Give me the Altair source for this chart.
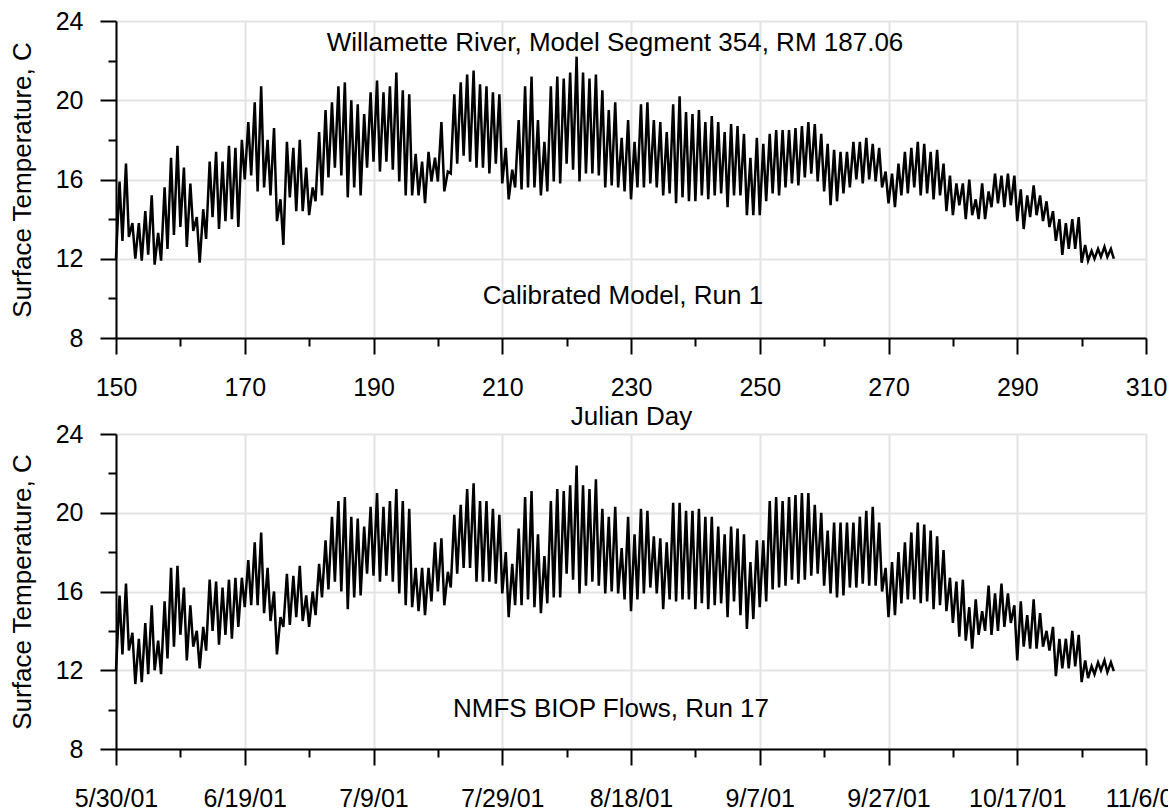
import altair as alt
import pandas as pd

# ---- data (daily min / max surface temperature, deg C) ----
days = list(range(150, 305))
end_day = 305

run1_max = [
    15.9, 16.8, 13.8, 13.8, 14.4, 15.2, 13.3, 15.6, 17.1, 17.7,
    16.6, 15.8, 14.1, 14.5, 16.9, 17.4, 16.9, 17.7, 17.6, 18.0,
    18.9, 19.9, 20.7, 18.0, 18.6, 15.0, 17.9, 17.6, 18.0, 16.6,
    15.6, 18.4, 19.5, 19.9, 20.7, 20.9, 20.0, 19.8, 19.3, 20.4,
    21.0, 20.4, 20.7, 21.4, 20.5, 20.3, 17.3, 16.9, 17.4, 17.1,
    18.9, 16.4, 20.3, 20.9, 21.3, 21.5, 20.8, 20.7, 20.4, 20.3,
    17.6, 16.5, 19.0, 20.7, 21.2, 19.0, 17.9, 20.7, 21.2, 21.1,
    21.4, 22.2, 21.4, 21.1, 21.3, 20.5, 19.5, 19.9, 18.1, 19.0,
    17.9, 19.8, 19.9, 19.0, 18.9, 18.4, 19.8, 20.2, 19.4, 19.3,
    19.5, 18.9, 19.2, 18.9, 18.4, 18.8, 18.7, 18.3, 17.1, 18.1,
    17.8, 18.3, 18.5, 18.5, 18.5, 18.6, 18.7, 18.9, 18.8, 18.3,
    17.8, 17.5, 17.4, 17.4, 17.9, 17.9, 18.1, 17.8, 17.6, 16.4,
    16.3, 16.8, 17.4, 17.6, 17.9, 17.8, 17.4, 17.5, 16.8, 16.2,
    15.8, 15.8, 16.0, 15.0, 15.8, 15.4, 16.3, 16.2, 16.3, 16.2,
    15.5, 15.2, 15.7, 15.2, 14.9, 14.4, 14.0, 13.8, 14.0, 14.1,
    12.7, 12.4, 12.5, 12.6, 12.5,
]
run1_min = [
    12.0, 12.9, 13.1, 12.0, 11.9, 12.2, 11.7, 11.9, 12.5, 13.2,
    13.6, 12.6, 13.4, 11.8, 13.0, 14.1, 13.5, 13.9, 14.0, 13.6,
    16.0, 16.2, 15.4, 15.6, 15.2, 13.9, 12.7, 15.1, 14.4, 14.4,
    14.2, 14.9, 15.2, 16.1, 16.6, 16.2, 15.1, 15.6, 15.2, 16.6,
    16.9, 16.4, 16.9, 16.5, 15.9, 15.2, 15.2, 15.2, 14.8, 15.9,
    15.9, 15.4, 16.3, 16.8, 17.2, 16.9, 16.6, 16.6, 16.3, 16.8,
    15.8, 15.0, 15.6, 15.5, 15.6, 15.6, 15.2, 15.4, 15.9, 15.8,
    16.8, 16.5, 15.9, 16.3, 16.3, 16.2, 15.6, 15.7, 15.6, 15.4,
    15.0, 15.6, 15.6, 15.8, 15.6, 15.2, 15.3, 14.8, 15.1, 14.9,
    14.9, 15.2, 15.0, 15.2, 15.3, 14.6, 15.2, 15.2, 14.2, 14.2,
    14.2, 14.9, 15.3, 15.2, 15.6, 15.8, 15.7, 16.1, 16.3, 15.9,
    15.4, 14.7, 14.9, 15.3, 15.6, 16.0, 15.8, 16.0, 15.9, 15.6,
    14.8, 14.6, 15.2, 15.3, 15.6, 15.2, 15.3, 15.0, 15.2, 14.4,
    14.2, 14.7, 14.0, 14.2, 14.0, 14.0, 14.6, 14.8, 14.6, 14.7,
    13.9, 13.5, 14.1, 14.2, 13.9, 13.6, 12.9, 12.2, 12.5, 12.5,
    11.8, 11.9, 12.0, 12.1, 12.1,
]
run1_end = 12.0

run17_max = [
    15.8, 16.4, 13.9, 13.6, 14.4, 15.3, 13.5, 15.5, 17.2, 17.3,
    16.2, 15.3, 14.0, 14.2, 16.6, 16.5, 16.2, 16.6, 16.7, 16.7,
    17.6, 18.5, 19.0, 17.2, 16.0, 14.7, 16.9, 16.8, 17.3, 15.8,
    16.0, 17.4, 18.6, 19.8, 20.6, 20.8, 19.8, 19.7, 19.3, 20.3,
    21.0, 20.3, 20.6, 21.2, 20.6, 20.2, 17.2, 17.2, 17.2, 18.5,
    18.7, 17.0, 19.9, 20.4, 21.2, 21.5, 20.6, 20.6, 20.2, 19.9,
    18.0, 17.4, 19.2, 20.8, 21.1, 18.9, 17.8, 20.6, 21.2, 21.1,
    21.4, 22.4, 21.4, 21.2, 21.7, 20.2, 19.8, 20.3, 18.2, 19.8,
    18.9, 20.2, 20.1, 18.8, 18.7, 18.5, 20.5, 20.5, 20.1, 20.1,
    20.2, 19.8, 19.8, 19.3, 18.9, 19.3, 19.2, 18.9, 17.5, 18.6,
    18.6, 20.6, 20.8, 20.6, 20.8, 20.9, 21.0, 21.0, 20.4, 20.0,
    19.1, 19.5, 19.5, 19.5, 19.5, 19.8, 20.1, 20.3, 19.5, 17.2,
    17.5, 18.0, 18.5, 19.0, 19.5, 19.4, 19.1, 18.8, 18.1, 16.7,
    16.5, 16.6, 15.2, 15.6, 15.0, 16.3, 15.9, 16.4, 15.9, 15.3,
    15.5, 14.8, 15.6, 14.9, 14.0, 14.2, 13.6, 13.6, 14.0, 13.8,
    12.5, 12.2, 12.4, 12.5, 12.4,
]
run17_min = [
    12.0, 12.8, 13.0, 11.3, 11.4, 11.8, 12.0, 11.8, 12.6, 13.2,
    13.8, 12.5, 13.2, 12.1, 13.0, 14.0, 13.3, 13.8, 13.6, 14.2,
    15.2, 15.3, 15.3, 14.9, 14.5, 12.8, 14.2, 14.3, 14.7, 14.5,
    14.2, 14.8, 15.7, 16.1, 16.5, 16.0, 15.1, 15.7, 15.8, 16.9,
    16.8, 16.5, 16.8, 16.5, 15.9, 15.3, 15.2, 15.0, 14.8, 15.5,
    16.0, 15.3, 16.2, 16.9, 17.2, 17.2, 16.5, 16.5, 16.5, 16.4,
    15.9, 14.7, 15.3, 15.3, 15.6, 15.2, 14.9, 15.4, 15.7, 15.7,
    16.9, 16.6, 15.9, 16.3, 16.5, 16.3, 15.9, 16.0, 15.9, 15.6,
    15.0, 15.6, 15.9, 16.2, 15.9, 15.1, 15.6, 15.5, 15.6, 15.6,
    15.1, 15.4, 15.1, 15.3, 15.4, 14.7, 15.5, 14.8, 14.1, 14.6,
    15.2, 15.5, 16.1, 16.2, 16.3, 16.6, 16.4, 16.6, 16.8, 16.9,
    16.3, 15.9, 15.7, 15.8, 16.2, 16.2, 16.4, 16.3, 16.3, 16.0,
    14.7, 14.8, 15.4, 15.6, 15.6, 15.4, 15.5, 15.1, 15.3, 15.0,
    14.4, 13.7, 13.5, 13.1, 13.8, 14.0, 13.8, 14.0, 14.2, 14.4,
    12.5, 13.2, 13.1, 13.1, 13.2, 13.0, 11.7, 12.1, 12.1, 12.2,
    11.4, 11.6, 11.8, 12.0, 11.9,
]
run17_end = 11.95

x_ticks = list(range(150, 311, 10))
y_ticks = list(range(8, 25, 2))

top_title = "Willamette River, Model Segment 354, RM 187.06"
top_note = "Calibrated Model, Run 1"
bottom_note = "NMFS BIOP Flows, Run 17"


def series(mx, mn, end):
    t, v = [], []
    for d, lo, hi in zip(days, mn, mx):
        t += [d, d + 0.55]
        v += [lo, hi]
    t.append(end_day)
    v.append(end)
    return pd.DataFrame({"day": t, "temp": v})


FONT = "Arial, Liberation Sans, sans-serif"
W, H1, H2 = 1030, 317, 315
GAP = 96

x_minor = "(datum.value - 150) % 20 != 0"
y_minor = "datum.value % 4 != 0"


def x_axis(title, label_expr):
    return alt.Axis(
        values=x_ticks,
        title=title,
        labelExpr=label_expr,
        tickSize={"condition": {"test": x_minor, "value": 8}, "value": 16},
        gridOpacity={"condition": {"test": x_minor, "value": 0}, "value": 1},
        labelPadding=21,
        titlePadding=3,
    )


y_axis = alt.Axis(
    values=y_ticks,
    title="Surface Temperature, C",
    labelExpr="datum.value % 4 == 0 ? datum.label : ''",
    tickSize={"condition": {"test": y_minor, "value": 8}, "value": 16},
    gridOpacity={"condition": {"test": y_minor, "value": 0}, "value": 1},
    labelPadding=17,
    titlePadding=20,
)


def panel(df, xax, notes, h):
    line = alt.Chart(df).mark_line(color="black", strokeWidth=2.5).encode(
        x=alt.X("day:Q", scale=alt.Scale(domain=[150, 310], nice=False, zero=False), axis=xax),
        y=alt.Y("temp:Q", scale=alt.Scale(domain=[8, 24], nice=False, zero=False), axis=y_axis),
    )
    layers = [line]
    for txt, px, py in notes:
        layers.append(
            alt.Chart(pd.DataFrame({"label": [txt]}))
            .mark_text(font=FONT, fontSize=26, color="black", align="center", baseline="middle")
            .encode(x=alt.value(px), y=alt.value(py), text="label:N")
        )
    return alt.layer(*layers).properties(width=W, height=h)


top = panel(
    series(run1_max, run1_min, run1_end),
    x_axis("Julian Day", "(datum.value - 150) % 20 == 0 ? format(datum.value, 'd') : ''"),
    [(top_title, 499, 22), (top_note, 507, 275)],
    H1,
)
bottom = panel(
    series(run17_max, run17_min, run17_end),
    x_axis(
        "",
        "(datum.value - 150) % 20 == 0 ? timeFormat(datetime(2001, 0, datum.value), '%-m/%-d/%y') : ''",
    ),
    [(bottom_note, 495, 275)],
    H2,
)

# Vega reports width = panel width and height = 0 for this layout with autosize "none";
# the padding makes the svg 1160 x 802, i.e. the page ends at 1168 x 810 and the overflow of
# the last date label is clipped as in the reference.
pad_left, pad_top = 108, 13
pad_right = 1160 - pad_left - W
pad_bottom = 802 - pad_top

chart = (
    alt.vconcat(top, bottom, spacing=GAP, bounds="flush")
    .properties(
        autosize=alt.AutoSizeParams(type="none", contains="content"),
        padding={"left": pad_left, "top": pad_top, "right": pad_right, "bottom": pad_bottom},
    )
    .configure_view(stroke="transparent")
    .configure_axis(
        domainColor="black",
        domainWidth=2,
        tickColor="black",
        tickWidth=2,
        gridColor="#e3e3e3",
        gridWidth=2,
        labelFont=FONT,
        labelFontSize=25,
        labelColor="black",
        titleFont=FONT,
        titleFontSize=26,
        titleFontWeight="normal",
        titleColor="black",
        labelFlush=False,
        labelOverlap=False,
    )
)

chart.save("out.html", embed_options={"renderer": "svg", "actions": False})
